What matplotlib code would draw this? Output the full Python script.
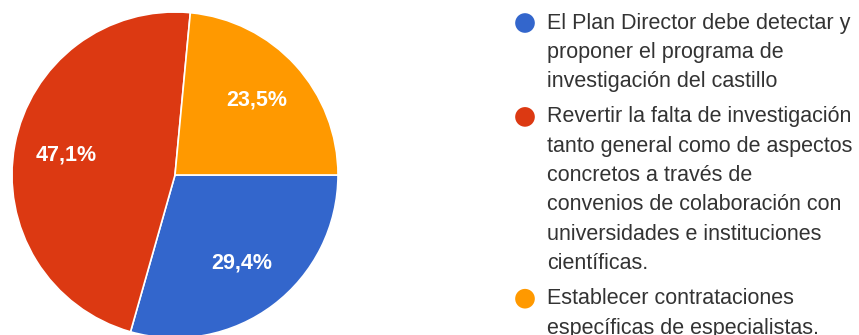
import matplotlib
matplotlib.use("Agg")
import matplotlib.pyplot as plt

# Survey answers (share of respondents, %)
labels = [
    "El Plan Director debe detectar y proponer el programa de investigación del castillo",
    "Revertir la falta de investigación tanto general como de aspectos concretos a través de convenios de colaboración con universidades e instituciones científicas.",
    "Establecer contrataciones específicas de especialistas.",
]
legend_lines = [
    ["El Plan Director debe detectar y", "proponer el programa de", "investigación del castillo"],
    ["Revertir la falta de investigación", "tanto general como de aspectos", "concretos a través de",
     "convenios de colaboración con", "universidades e instituciones", "científicas."],
    ["Establecer contrataciones", "específicas de especialistas."],
]
shares = [29.4, 47.1, 23.5]
colors = ["#3366CC", "#DC3912", "#FF9900"]

W, H = 859, 335
fig = plt.figure(figsize=(W / 100, H / 100), dpi=100)
fig.patch.set_facecolor("white")
ax = fig.add_axes([0, 0, 1, 1])

def fmt(p):
    return f"{p:.1f}%".replace(".", ",")

wedges, texts, autotexts = ax.pie(
    shares, colors=colors, startangle=0, counterclock=False,
    center=(175, H - 175), radius=163, autopct=fmt, pctdistance=0.68,
    wedgeprops=dict(edgecolor="white", linewidth=1.2),
    textprops=dict(color="white", fontsize=15.5, fontweight="bold",
                   family="Liberation Sans"),
    frame=True,
)
ax.set_xlim(0, W)
ax.set_ylim(0, H)
ax.set_aspect("equal")
ax.axis("off")

# Legend: colored dots with wrapped labels
line_step = 29.3
entry_gap = 6.0
y = 23.0
dot_x = 525
text_x = 547
for lines, c in zip(legend_lines, colors):
    ax.scatter([dot_x], [H - y], s=200, color=c, zorder=3, edgecolors="none")
    for i, ln in enumerate(lines):
        ax.text(text_x, H - (y + i * line_step), ln, fontsize=15.5,
                family="Liberation Sans", color="#333333",
                va="center", ha="left")
    y += len(lines) * line_step + entry_gap

fig.savefig("out.png", dpi=100, facecolor="white")
